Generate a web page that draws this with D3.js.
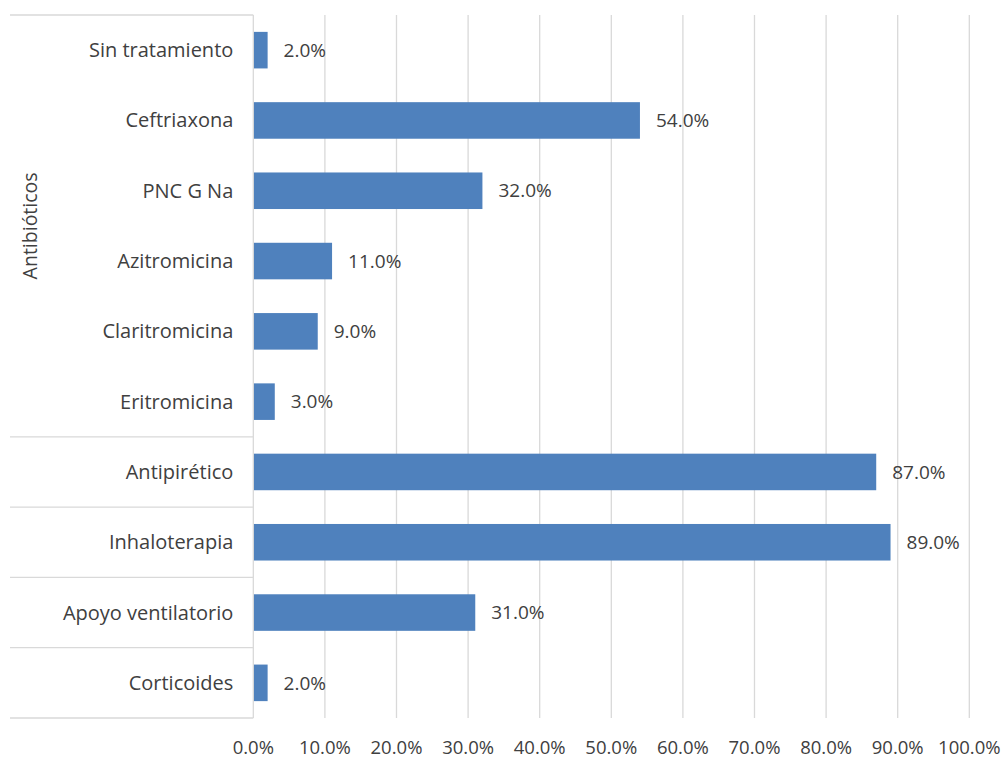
<!DOCTYPE html>
<html><head><meta charset="utf-8">
<script src="https://cdn.jsdelivr.net/npm/d3@7"></script>
<style>body{margin:0;background:#fff}svg text{font-family:"Open Sans",sans-serif;fill:#404040}</style>
</head><body><svg id="c" width="1005" height="758"></svg>
<script>
const categories = ["Sin tratamiento","Ceftriaxona","PNC G Na","Azitromicina","Claritromicina","Eritromicina","Antipirético","Inhaloterapia","Apoyo ventilatorio","Corticoides"];
const values = [2.0,54.0,32.0,11.0,9.0,3.0,87.0,89.0,31.0,2.0];
const groups = ["Antibióticos","Antibióticos","Antibióticos","Antibióticos","Antibióticos","Antibióticos","","","",""];
const ticks = [0,10,20,30,40,50,60,70,80,90,100];

const svg = d3.select("#c");
const L=253.3, R=969.3, T=15, B=718;
const x = d3.scaleLinear().domain([0,100]).range([L,R]);
const y = d3.scaleBand().domain(categories).range([T,B]).paddingInner(0.48).paddingOuter(0.24);
const band = (B-T)/categories.length;

svg.append("g").selectAll("line").data(ticks.slice(1)).join("line")
  .attr("x1",d=>x(d)).attr("x2",d=>x(d)).attr("y1",T).attr("y2",B)
  .attr("stroke","#d9d9d9").attr("stroke-width",1.3);

svg.append("g").selectAll("rect").data(categories).join("rect")
  .attr("x",x(0)).attr("y",d=>y(d)).attr("height",y.bandwidth())
  .attr("width",(d,i)=>x(values[i])-x(0)).attr("fill","#4F81BD");

svg.append("g").selectAll("text").data(categories).join("text")
  .attr("x",(d,i)=>x(values[i])+16).attr("y",d=>y(d)+y.bandwidth()/2)
  .attr("dy","0.35em").attr("font-size",19)
  .text((d,i)=>values[i].toFixed(1)+"%");

svg.append("line").attr("x1",L).attr("x2",L).attr("y1",T).attr("y2",B).attr("stroke","#d9d9d9").attr("stroke-width",1.3);

svg.append("g").selectAll("text").data(categories).join("text")
  .attr("x",L-20).attr("y",d=>y(d)+y.bandwidth()/2).attr("dy","0.35em")
  .attr("text-anchor","end").attr("font-size",20).text(d=>d);

const bounds=[0];
for(let i=1;i<categories.length;i++){ if(groups[i]!==groups[i-1]||groups[i]==="") bounds.push(i); }
bounds.push(categories.length);
svg.append("g").selectAll("line").data(bounds).join("line")
  .attr("x1",10).attr("x2",L).attr("y1",d=>T+d*band).attr("y2",d=>T+d*band)
  .attr("stroke","#d9d9d9").attr("stroke-width",1.3);

const gname="Antibióticos";
const gi=groups.map((g,i)=>g===gname?i:-1).filter(i=>i>=0);
const gc=T+(gi[0]+gi[gi.length-1]+1)/2*band;
svg.append("text").attr("transform",`translate(30,${gc}) rotate(-90)`)
  .attr("text-anchor","middle").attr("dy","0.35em").attr("font-size",19.5).text(gname);

svg.append("g").selectAll("text").data(ticks).join("text")
  .attr("x",d=>x(d)).attr("y",748).attr("dy","0.35em").attr("text-anchor","middle")
  .attr("font-size",18.5).text(d=>d.toFixed(1)+"%");
</script></body></html>
